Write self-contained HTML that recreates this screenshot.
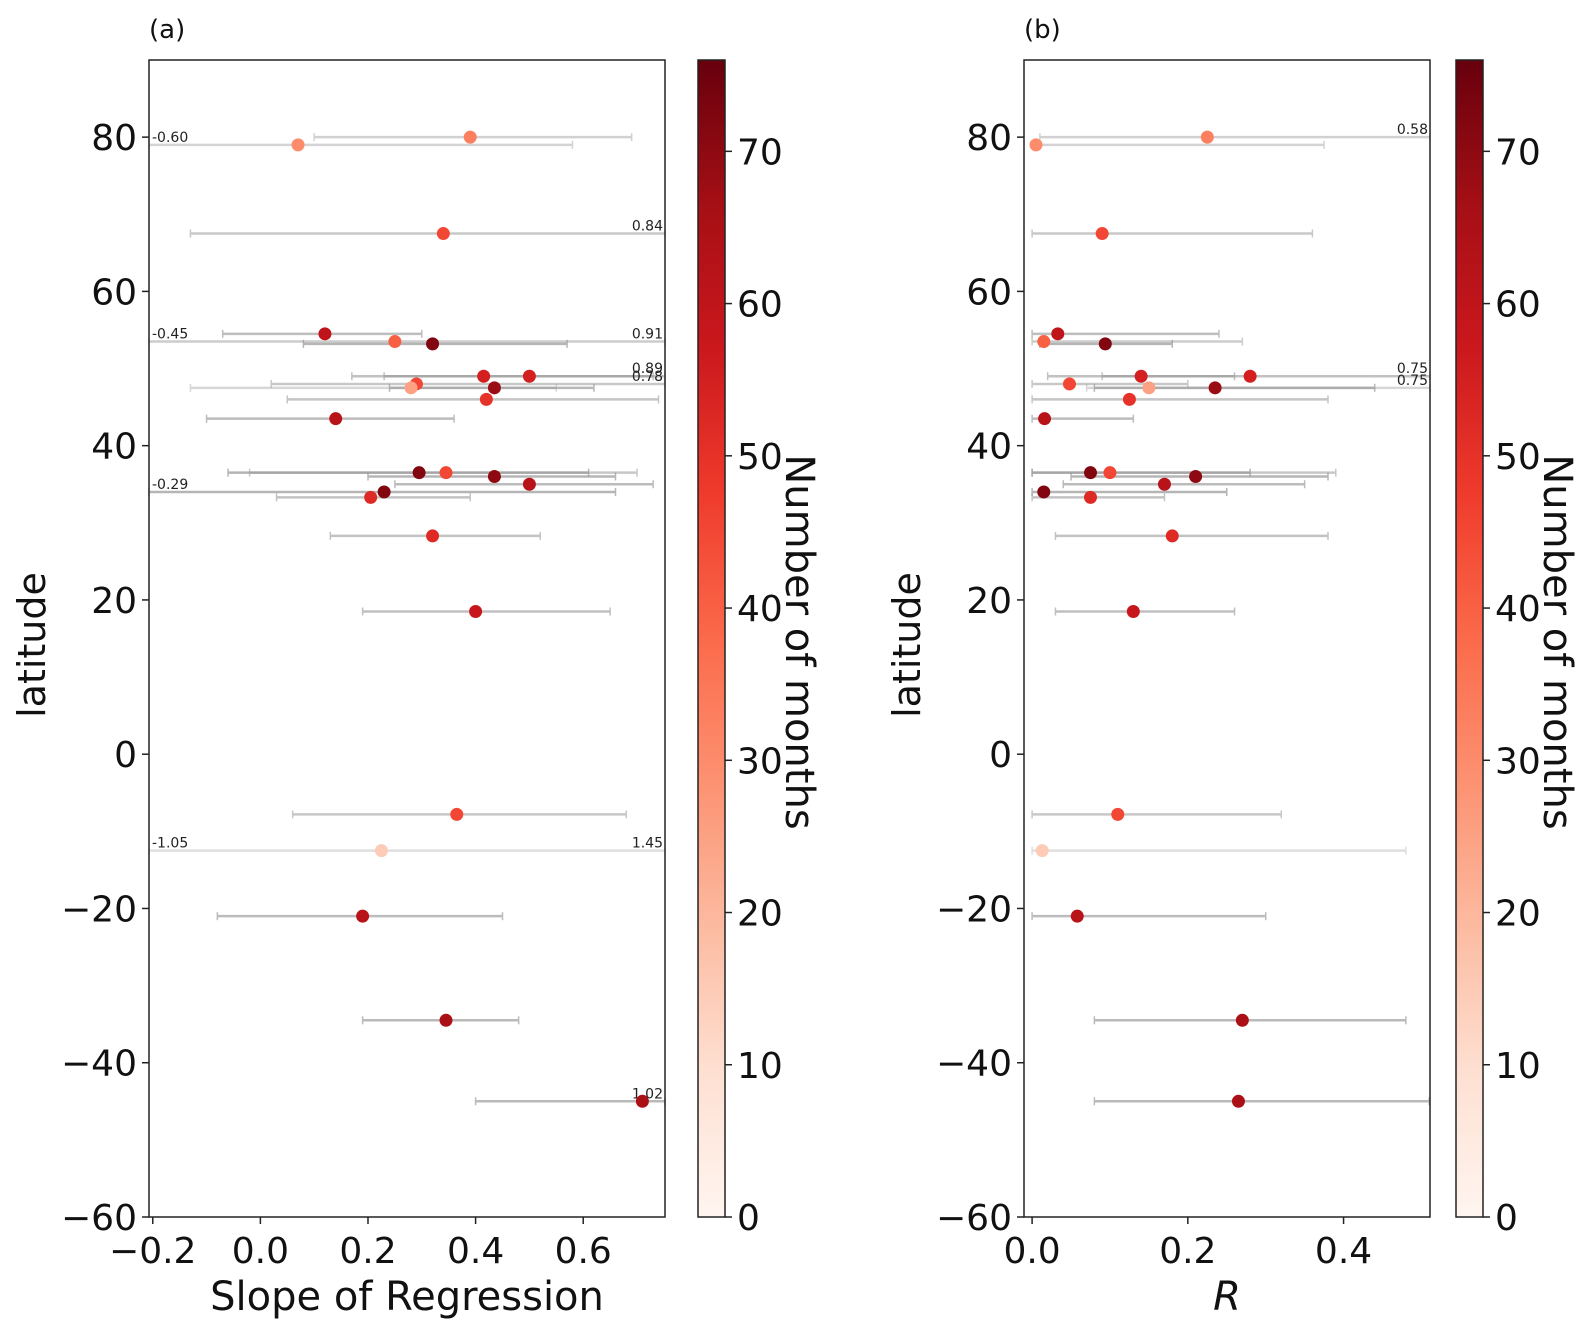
<!DOCTYPE html>
<html><head><meta charset="utf-8"><style>
body{margin:0;background:#fff}
svg{display:block;font-family:"DejaVu Sans","Liberation Sans",sans-serif}
</style></head><body>
<svg id="chart" width="1589" height="1333" viewBox="0 0 1589 1333" xmlns="http://www.w3.org/2000/svg">
<defs>
<linearGradient id="reds" x1="0" y1="1" x2="0" y2="0">
<stop offset="0" stop-color="#fff5f0"/><stop offset="0.125" stop-color="#fee0d2"/><stop offset="0.25" stop-color="#fcbba1"/><stop offset="0.375" stop-color="#fc9272"/><stop offset="0.5" stop-color="#fb6a4a"/><stop offset="0.625" stop-color="#ef3b2c"/><stop offset="0.75" stop-color="#cb181d"/><stop offset="0.875" stop-color="#a50f15"/><stop offset="1" stop-color="#67000d"/>
</linearGradient>
</defs>
</svg>
<script>
const lats = [80,79,67.5,54.5,53.5,53.2,49,49,48,47.5,47.5,46,43.5,36.5,36.5,36,35,34,33.3,28.3,18.5,-7.8,-12.5,-21,-34.5,-45];
const months = [33,30,45,60,40,72,55,55,45,25,68,50,62,72,45,70,62,72,52,52,58,45,15,62,65,65];
const slopeVals = [0.39,0.07,0.34,0.12,0.25,0.32,0.415,0.50,0.29,0.28,0.435,0.42,0.14,0.295,0.345,0.435,0.50,0.23,0.205,0.32,0.40,0.365,0.225,0.19,0.345,0.71];
const slopeLo = [0.10,-0.60,-0.13,-0.07,-0.45,0.08,0.17,0.23,0.02,-0.13,0.24,0.05,-0.10,-0.06,-0.02,0.20,0.25,-0.29,0.03,0.13,0.19,0.06,-1.05,-0.08,0.19,0.40];
const slopeHi = [0.69,0.58,0.84,0.30,0.91,0.57,0.89,0.73,0.78,0.55,0.62,0.74,0.36,0.61,0.70,0.66,0.73,0.66,0.39,0.52,0.65,0.68,1.45,0.45,0.48,1.02];
const rVals = [0.225,0.005,0.09,0.033,0.015,0.094,0.14,0.28,0.048,0.15,0.235,0.125,0.016,0.075,0.10,0.21,0.17,0.015,0.075,0.18,0.13,0.11,0.013,0.058,0.27,0.265];
const rLo = [0.01,0,0,0,0,0.01,0.02,0.09,0,0.07,0.08,0,0,0,0,0.05,0.04,0,0,0.03,0.03,0,0,0,0.08,0.08];
const rHi = [0.58,0.375,0.36,0.24,0.27,0.18,0.26,0.75,0.20,0.75,0.44,0.38,0.13,0.28,0.39,0.38,0.35,0.25,0.17,0.38,0.26,0.32,0.48,0.30,0.48,0.51];
const latTicks = [80,60,40,20,0,-20,-40,-60];
const slopeTicks = [-0.2,0.0,0.2,0.4,0.6];
const rTicks = [0.0,0.2,0.4];
const cbTicks = [0,10,20,30,40,50,60,70];

const NS="http://www.w3.org/2000/svg";
const svg=document.getElementById('chart');
function el(tag,attrs,parent){const e=document.createElementNS(NS,tag);for(const k in attrs)e.setAttribute(k,attrs[k]);(parent||svg).appendChild(e);return e;}
const stops=[[0,[255,245,240]],[0.125,[254,224,210]],[0.25,[252,187,161]],[0.375,[252,146,114]],[0.5,[251,106,74]],[0.625,[239,59,44]],[0.75,[203,24,29]],[0.875,[165,15,21]],[1,[103,0,13]]];
function cmap(t){t=Math.max(0,Math.min(1,t));for(let i=1;i<stops.length;i++){if(t<=stops[i][0]){const a=stops[i-1],b=stops[i];const f=(t-a[0])/(b[0]-a[0]);return 'rgb('+a[1].map((v,j)=>Math.round(v+(b[1][j]-v)*f)).join(',')+')';}}return 'rgb(103,0,13)';}
const yTop=60,yBot=1217,latMin=-60,latMax=90;
const yS=v=>yBot-(v-latMin)/(latMax-latMin)*(yBot-yTop);
const NMAX=76;

function panel(p){
  const g=el('g',{});
  
  
  const xS=v=>p.x0+(v-p.min)/(p.max-p.min)*(p.x1-p.x0);
  for(let i=0;i<lats.length;i++){
    const y=yS(lats[i]);
    const lo=p.lo[i],hi=p.hi[i];
    const xl=xS(Math.max(lo,p.min)),xh=xS(Math.min(hi,p.max));
    const op=(0.2+0.55*months[i]/NMAX).toFixed(2);
    const eb=el('g',{opacity:op},g);
    
    
    el('line',{x1:xl,x2:xh,y1:y,y2:y,stroke:'#999','stroke-width':2.5},eb);
    el('line',{x1:xl,x2:xl,y1:y-4,y2:y+4,stroke:'#999','stroke-width':1.5},eb);
    el('line',{x1:xh,x2:xh,y1:y-4,y2:y+4,stroke:'#999','stroke-width':1.5},eb);
    if(lo<p.min){const t=el('text',{x:xl+3,y:y-3,'font-size':14,fill:'#222'},g);t.textContent=lo.toFixed(2);
      }
    if(hi>p.max){const t=el('text',{x:xh-2,y:y-3,'font-size':14,fill:'#222','text-anchor':'end'},g);t.textContent=hi.toFixed(2);
      }
  }
  for(let i=0;i<lats.length;i++){
    const c=el('circle',{cx:xS(p.vals[i]),cy:yS(lats[i]),r:6.5,fill:cmap(months[i]/NMAX)},g);
    
    
  }
  const fr=el('rect',{x:p.x0,y:yTop,width:p.x1-p.x0,height:yBot-yTop,fill:'none',stroke:'#222','stroke-width':1.5},g);
  
  latTicks.forEach(v=>{const y=yS(v);el('line',{x1:p.x0-7,x2:p.x0,y1:y,y2:y,stroke:'#222','stroke-width':1.5},g);
    const t=el('text',{x:p.x0-12,y:y+13,'font-size':36,'text-anchor':'end',fill:'#111'},g);t.textContent=v<0?'\u2212'+(-v):String(v);
    });
  p.ticks.forEach(v=>{const x=xS(v);el('line',{x1:x,x2:x,y1:yBot,y2:yBot+7,stroke:'#222','stroke-width':1.5},g);
    const t=el('text',{x:x,y:yBot+46,'font-size':36,'text-anchor':'middle',fill:'#111'},g);t.textContent=(v<0?'\u2212':'')+Math.abs(v).toFixed(1);
    });
  const xt=el('text',{x:(p.x0+p.x1)/2,y:1310,'font-size':40,'text-anchor':'middle',fill:'#111','font-style':p.italic?'italic':'normal'},g);
  xt.textContent=p.xlabel;
  const yt=el('text',{x:0,y:0,'font-size':38,'text-anchor':'middle',fill:'#111',transform:'translate('+(p.x0-104)+',645) rotate(-90)'},g);
  yt.textContent='latitude';
  const pt=el('text',{x:p.x0,y:38,'font-size':26,fill:'#111'},g);pt.textContent=p.title;
  
  const cb=el('g',{},g);
  el('rect',{x:p.cbx,y:yTop,width:27,height:yBot-yTop,fill:'url(#reds)',stroke:'#222','stroke-width':1.5},cb);
  cbTicks.forEach(v=>{const y=yBot-v/NMAX*(yBot-yTop);el('line',{x1:p.cbx+27,x2:p.cbx+34,y1:y,y2:y,stroke:'#222','stroke-width':1.5},cb);
    const t=el('text',{x:p.cbx+39,y:y+13,'font-size':36,fill:'#111'},cb);t.textContent=v;
    });
  const ct=el('text',{x:0,y:0,'font-size':40,'text-anchor':'middle',fill:'#111',transform:'translate('+(p.cbx+88)+',642) rotate(90)'},cb);
  ct.textContent='Number of months';
}
panel({name:'panel-a-slope',x0:149,x1:665,min:-0.207,max:0.752,vals:slopeVals,lo:slopeLo,hi:slopeHi,ticks:slopeTicks,xlabel:'Slope of Regression',italic:false,title:'(a)',cbx:698});
panel({name:'panel-b-r',x0:1024,x1:1430,min:-0.0104,max:0.511,vals:rVals,lo:rLo,hi:rHi,ticks:rTicks,xlabel:'R',italic:true,title:'(b)',cbx:1456});
</script>
</body></html>
